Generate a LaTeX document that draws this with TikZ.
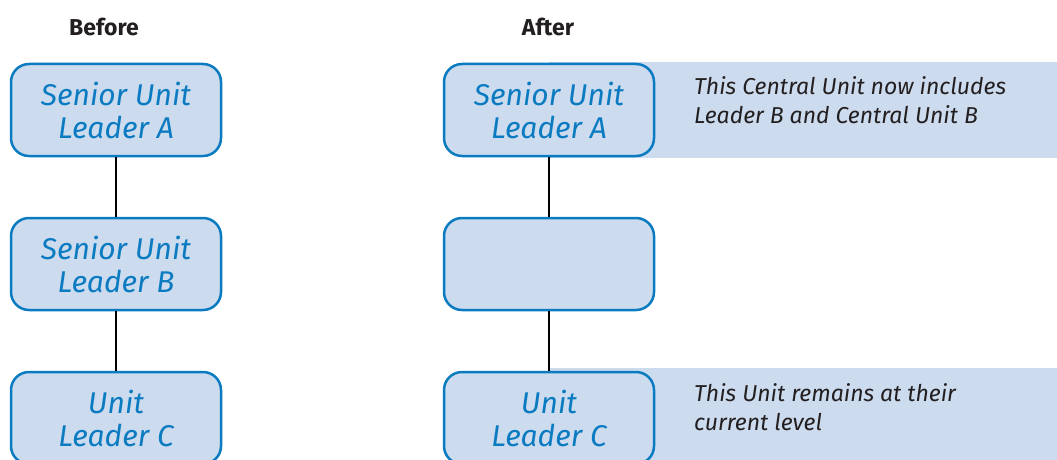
\documentclass[tikz,border=0pt]{standalone}
\usepackage{fontspec}
\setmainfont{Fira Sans}
\usetikzlibrary{positioning}
\definecolor{unitblue}{HTML}{0B7BC1}
\definecolor{unitfill}{HTML}{CCDBEE}
\definecolor{notegray}{HTML}{231F20}

\begin{document}
\begin{tikzpicture}[x=1pt,y=-1pt,
unitbox/.style={draw=unitblue,line width=2.5pt,fill=unitfill,rounded corners=18pt,minimum width=210pt,minimum height=92pt,align=center,text=unitblue,font=\fontsize{30}{33}\selectfont\itshape},
notetext/.style={anchor=north west,inner sep=0pt,align=left,text=notegray,font=\fontsize{23}{29}\selectfont\itshape},
coltitle/.style={text=notegray,font=\fontsize{23}{26}\selectfont\bfseries}]
\useasboundingbox (0,0) rectangle (1057,460);
\clip (0,0) rectangle (1057,460);
% strips behind the right column
\fill[unitfill] (549,62) rectangle (1057,158);
\fill[unitfill] (549,368) rectangle (1057,470);

\node[coltitle] (before) at (104,27) {Before};
\node[coltitle] (after) at (548,27) {After};

% before
\node[unitbox] (seniorA) at (116,110) {Senior Unit\\Leader A};
\node[unitbox] (seniorB) at (116,264) {Senior Unit\\Leader B};
\node[unitbox] (leaderC) at (116,418) {Unit\\Leader C};
\draw[line width=1.5pt] (seniorA) -- (seniorB);
\draw[line width=1.5pt] (seniorB) -- (leaderC);

% after
\node[unitbox] (newA) at (549,110) {Senior Unit\\Leader A};
\node[unitbox] (emptyB) at (549,264) {};
\node[unitbox] (newC) at (549,418) {Unit\\Leader C};
\draw[line width=1.5pt] (newA) -- (emptyB);
\draw[line width=1.5pt] (emptyB) -- (newC);

\node[notetext] (noteA) at (694,76) {This Central Unit now includes\\Leader B and Central Unit B};
\node[notetext] (noteC) at (694,383) {This Unit remains at their\\current level};
\end{tikzpicture}
\end{document}
